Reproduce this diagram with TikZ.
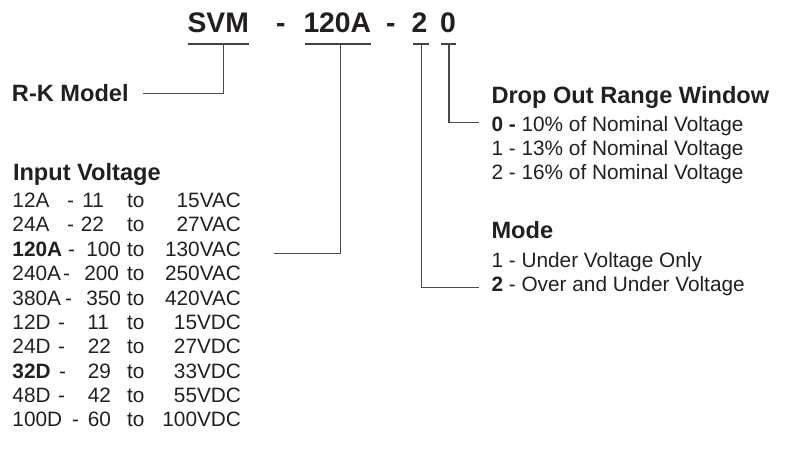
\documentclass[tikz,border=0pt]{standalone}
\usepackage{fontspec}
\setmainfont{Liberation Sans}
\definecolor{ink}{HTML}{231F20}
\definecolor{wire}{HTML}{4A4A4A}
\begin{document}
\begin{tikzpicture}[x=1pt,y=-1pt,
  txt/.style={inner sep=0pt,outer sep=0pt,anchor=base west,text=ink,font=\fontsize{20.8}{24}\selectfont},
  txte/.style={txt,anchor=base east},
  head/.style={txt,font=\fontsize{23.6}{27}\selectfont\bfseries},
  ttl/.style={txt,font=\fontsize{28.3}{32}\selectfont\bfseries},
  wireline/.style={draw=wire,line width=1.3pt},
  uline/.style={draw=ink!85!white,line width=1.2pt}]
\useasboundingbox (0,0) rectangle (786,450);
% title
\node[ttl] (svm) at (187.5,32) {SVM};
\node[ttl] (d1) at (276,32) {-};
\node[ttl] (c120) at (303.5,32) {120A};
\node[ttl] (d2) at (386,32) {-};
\node[ttl] (cm) at (411.5,32) {2};
\node[ttl] (cz) at (440,32) {0};
% underlines
\coordinate (u1l) at ([yshift=-12pt]svm.base west);
\coordinate (u1r) at ([yshift=-12pt]svm.base east);
\coordinate (u1) at ([yshift=-12pt,xshift=5pt]svm.base);
\coordinate (u2l) at ([yshift=-12pt,xshift=1pt]c120.base west);
\coordinate (u2r) at ([yshift=-12pt]c120.base east);
\coordinate (u2) at ([yshift=-12pt,xshift=3pt]c120.base);
\coordinate (u3l) at ([yshift=-12pt,xshift=1pt]cm.base west);
\coordinate (u3r) at ([yshift=-12pt,xshift=2pt]cm.base east);
\coordinate (u3) at ([yshift=-12pt,xshift=2pt]cm.base);
\coordinate (u4l) at ([yshift=-12pt,xshift=1pt]cz.base west);
\coordinate (u4r) at ([yshift=-12pt]cz.base east);
\coordinate (u4) at ([yshift=-12pt,xshift=1pt]cz.base);
\draw[uline] (u1l) -- (u1r);
\draw[uline] (u2l) -- (u2r);
\draw[uline] (u3l) -- (u3r);
\draw[uline] (u4l) -- (u4r);
% R-K model
\node[head] (rk) at (12,101.7) {R-K Model};
\coordinate (rkend) at ([xshift=14pt,yshift=8.4pt]rk.base east);
\draw[wireline] (u1) |- (rkend);
% Input voltage
\node[head] (iv) at (13,180.7) {Input Voltage};
% rows: code, dash x, number, number right x, end value
\foreach \i/\code/\dx/\num/\nx/\val in {
  0/12A/67/11/104/15VAC,
  1/24A/67/22/104/27VAC,
  2/\textbf{120A}/68/100/121/130VAC,
  3/240A/63/200/119/250VAC,
  4/380A/65/350/121/420VAC,
  5/12D/58/11/109/15VDC,
  6/24D/58/22/111/27VDC,
  7/\textbf{32D}/59/29/111/33VDC,
  8/48D/58/42/111/55VDC,
  9/100D/72/60/111/100VDC}{
  \pgfmathsetmacro{\yy}{207.6+24.35*\i}
  \node[txt] (rc\i) at (12.5,\yy) {\code};
  \node[txt] (rd\i) at (\dx,\yy) {-};
  \node[txte] (rn\i) at (\nx,\yy) {\num};
  \node[txt] (rt\i) at (127,\yy) {to};
  \node[txte] (rv\i) at (241,\yy) {\val};
}
\coordinate (ivend) at ([xshift=33pt,yshift=2.7pt]rv2.base east);
\draw[wireline] (u2) |- (ivend);
% Drop out range window
\node[head] (dorw) at (491.5,103.3) {Drop Out Range Window};
\node[txt] (w0) at (491.5,131) {\textbf{0 -} 10\% of Nominal Voltage};
\node[txt] (w1) at (491.5,155) {1 - 13\% of Nominal Voltage};
\node[txt] (w2) at (491.5,179) {2 - 16\% of Nominal Voltage};
\coordinate (w0start) at ([xshift=-12.5pt,yshift=8.5pt]w0.base west);
\draw[wireline] (u4) |- (w0start);
% Mode
\node[head] (mode) at (491.5,238) {Mode};
\node[txt] (m1) at (491.5,267.8) {1 - Under Voltage Only};
\node[txt] (m2) at (491.5,291.7) {\textbf{2} - Over and Under Voltage};
\coordinate (m2start) at ([xshift=-12.5pt,yshift=4.5pt]m2.base west);
\draw[wireline] (u3) |- (m2start);
\end{tikzpicture}
\end{document}
